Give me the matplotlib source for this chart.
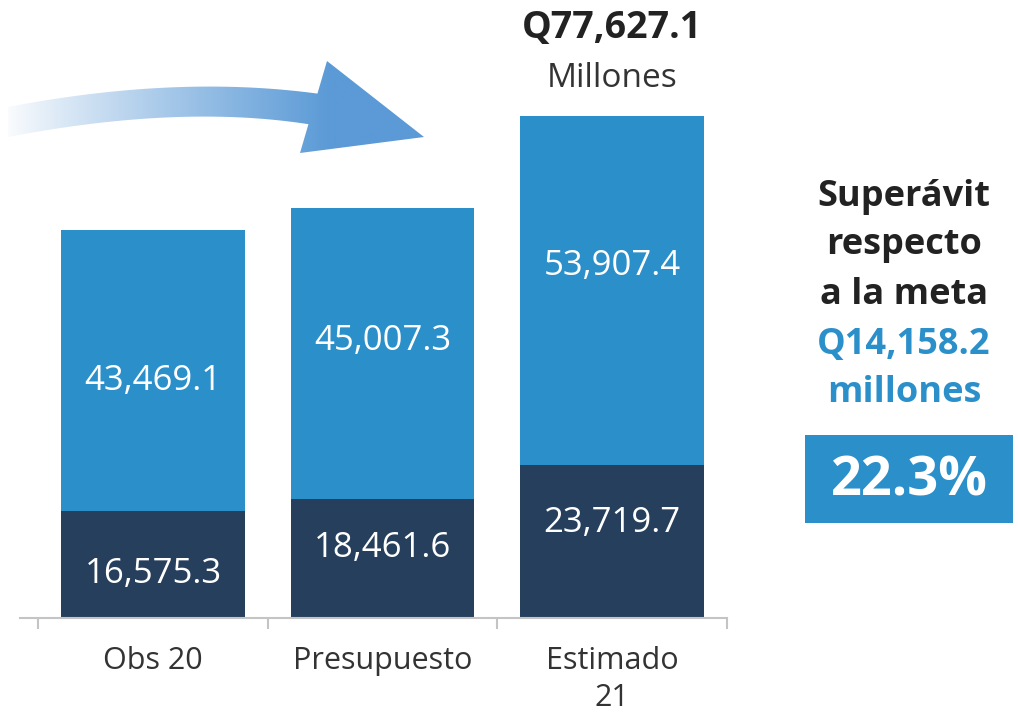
import numpy as np
import matplotlib
matplotlib.use("Agg")
import matplotlib.pyplot as plt
from matplotlib.patches import Polygon, Rectangle
from matplotlib.colors import to_rgb

# ---- data ----
categories = ["Obs 20", "Presupuesto", "Estimado\n21"]
bottom_values = [16575.3, 18461.6, 23719.7]
top_values = [43469.1, 45007.3, 53907.4]
total_label = "Q77,627.1"
total_unit = "Millones"
side_lines = ["Superávit", "respecto", "a la meta"]
side_blue_lines = ["Q14,158.2", "millones"]
side_pct = "22.3%"

# ---- style ----
BLUE = "#2b8fca"
NAVY = "#263f5c"
DARK = "#222222"
GREY_TXT = "#333333"
FONT = ["Open Sans", "DejaVu Sans"]
plt.rcParams["font.family"] = FONT

# label placement inside segments (fraction of segment height from its bottom)
bottom_frac = [0.41, 0.59, 0.62]
top_frac = [0.46, 0.54, 0.57]

W, H = 1018, 712
fig = plt.figure(figsize=(W / 100, H / 100), dpi=100)

# data axes placed in pixel terms
ax_left, ax_right, ax_bottom_px, ax_top_px = 20, 727, 618, 100
ax = fig.add_axes([ax_left / W, (H - ax_bottom_px) / H,
                   (ax_right - ax_left) / W, (ax_bottom_px - ax_top_px) / H])
x = np.arange(len(categories))
width = 0.8
ax.bar(x, bottom_values, width=width, color=NAVY, zorder=2)
ax.bar(x, top_values, width=width, bottom=bottom_values, color=BLUE, zorder=2)
ax.set_xlim(-0.58, 2.5)
ax.set_ylim(0, 80100)

for i in range(len(x)):
    b = bottom_values[i]
    t = top_values[i]
    ax.text(x[i], b * bottom_frac[i], f"{b:,.1f}", ha="center", va="center",
            color="white", fontsize=25, zorder=3)
    ax.text(x[i], b + t * top_frac[i], f"{t:,.1f}", ha="center", va="center",
            color="white", fontsize=25, zorder=3)

total = bottom_values[2] + top_values[2]
ax.annotate(total_unit, xy=(x[2], total), xytext=(0, 27), textcoords="offset points",
            ha="center", va="center", fontsize=24, color=GREY_TXT)
ax.annotate(total_label, xy=(x[2], total), xytext=(0, 63), textcoords="offset points",
            ha="center", va="center", fontsize=27, fontweight="bold", color=DARK)

for s in ["top", "left", "right"]:
    ax.spines[s].set_visible(False)
ax.spines["bottom"].set_color("#c4c4c4")
ax.spines["bottom"].set_linewidth(1.5)
ax.set_yticks([])
ax.set_xticks(x)
ax.set_xticklabels(categories, fontsize=22, color=GREY_TXT, linespacing=1.3)
ax.tick_params(axis="x", which="major", length=0, pad=20)
ax.set_xticks([-0.5, 0.5, 1.5, 2.5], minor=True)
ax.tick_params(axis="x", which="minor", length=8, width=1.5, color="#c4c4c4",
               direction="out")
ax.patch.set_alpha(0)

# overlay axes in pixel coordinates for decorations
ov = fig.add_axes([0, 0, 1, 1])
ov.set_xlim(0, W)
ov.set_ylim(H, 0)
ov.axis("off")
ov.patch.set_alpha(0)

# curved gradient arrow
def qbez(p0, c, p2, n=60):
    t = np.linspace(0, 1, n)[:, None]
    p0, c, p2 = map(np.array, (p0, c, p2))
    return (1 - t) ** 2 * p0 + 2 * (1 - t) * t * c + t ** 2 * p2

top_edge = qbez((8, 107), (190, 72), (340, 97))
bot_edge = qbez((8, 137), (190, 102), (325, 127))
shaft = np.vstack([top_edge, bot_edge[::-1]])
head = np.array([(327, 61), (424, 137), (300, 153)])

xs = np.linspace(0, W, 600)
c0 = np.array([1.0, 1.0, 1.0])
c1 = np.array(to_rgb("#5b9ad6"))
f = np.clip(xs / 330.0, 0, 1) ** 0.9
grad = (c0[None, :] * (1 - f[:, None]) + c1[None, :] * f[:, None])
img = np.tile(grad[None, :, :], (2, 1, 1))
for poly in (shaft, head):
    patch = Polygon(poly, closed=True, facecolor="none", edgecolor="none")
    ov.add_patch(patch)
    im = ov.imshow(img, extent=(0, W, 160, 50), aspect="auto", interpolation="bilinear",
                   zorder=1)
    im.set_clip_path(patch)
ov.set_xlim(0, W)
ov.set_ylim(H, 0)

# side panel text
cx = 904
ys = [197, 245, 295]
for yv, s in zip(ys, side_lines):
    ov.text(cx, yv, s, ha="center", va="center", fontsize=26, fontweight="bold",
            color=DARK)
for yv, s in zip([345, 393], side_blue_lines):
    ov.text(cx, yv, s, ha="center", va="center", fontsize=26, fontweight="bold",
            color=BLUE)
ov.add_patch(Rectangle((805, 435), 208, 88, facecolor=BLUE, edgecolor="none"))
ov.text(909, 481, side_pct, ha="center", va="center", fontsize=39, fontweight="bold",
        color="white")

fig.savefig("out.png", dpi=100)
